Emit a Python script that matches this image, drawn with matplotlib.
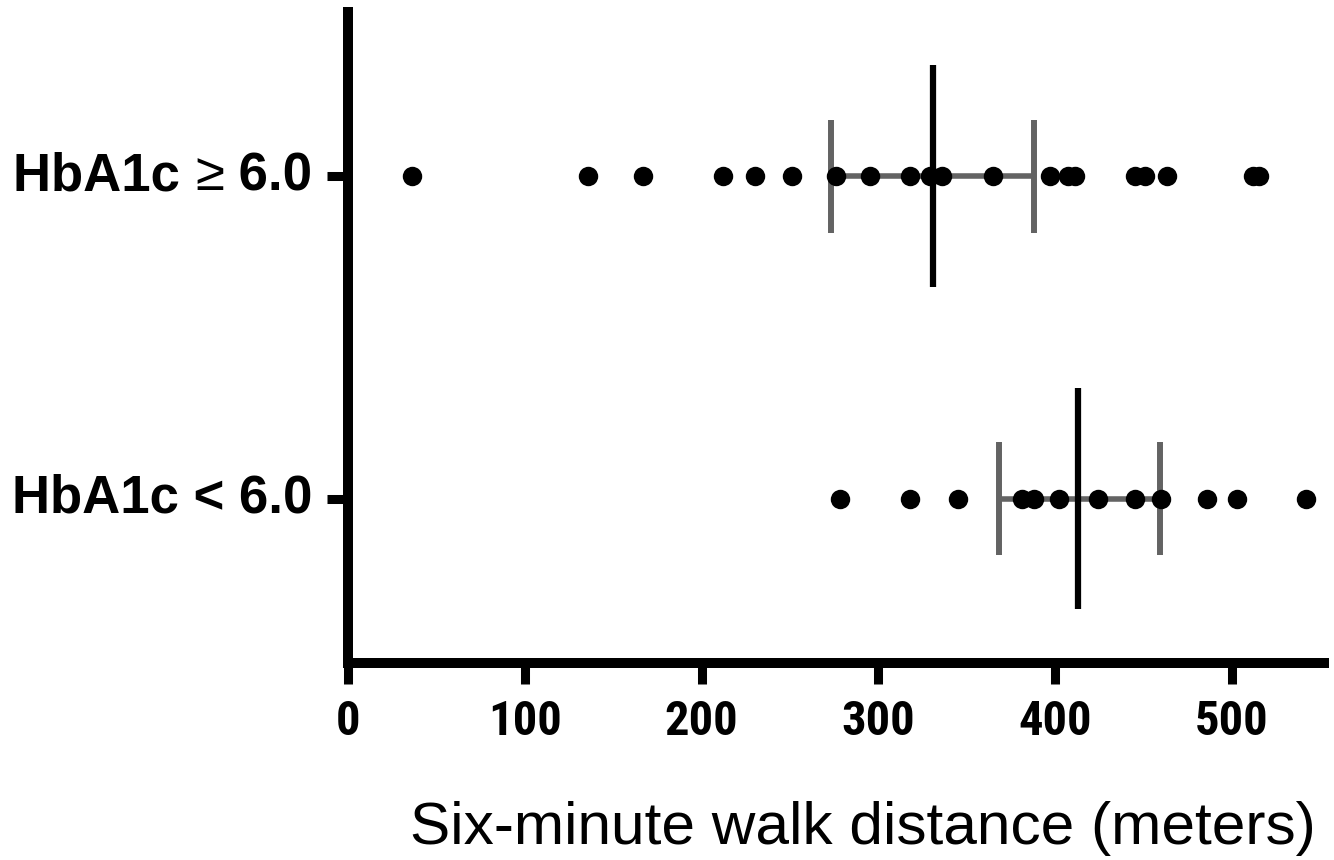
import matplotlib
matplotlib.use('Agg')
import matplotlib.pyplot as plt
from matplotlib import font_manager as fm
from matplotlib.offsetbox import TextArea, HPacker, AnnotationBbox

# Fonts: Arial-like text, a condensed bold face for the tick numbers if one exists
names = {f.name for f in fm.fontManager.ttflist}
sans = 'Liberation Sans' if 'Liberation Sans' in names else 'DejaVu Sans'


def find_condensed():
    bold = [f for f in fm.fontManager.ttflist
            if (f.weight in ('bold', 700, 'heavy') or (isinstance(f.weight, int) and f.weight >= 600))
            and ('Narrow' in f.name or 'Condensed' in f.name or 'condensed' in str(f.stretch)
                 or 'Condensed' in f.fname or 'Narrow' in f.fname)
            and 'Oblique' not in f.fname and 'Italic' not in f.fname]
    for key in ['LiberationSansNarrow', 'RobotoCondensed', 'Roboto_Condensed', 'DejaVuSansCondensed',
                'OpenSans_Condensed', 'OpenSansCondensed', 'NotoSans-Condensed', 'Condensed']:
        for f in bold:
            if key in f.fname.replace(' ', ''):
                return fm.FontProperties(fname=f.fname)
    return None


cond = find_condensed()

# Data (six-minute walk distance, meters)
groups = ['HbA1c < 6.0', 'HbA1c ≥ 6.0']
walk_low = [278, 318, 345, 381, 388, 402, 424, 445, 460, 486, 503, 542]
walk_high = [36, 136, 167, 212, 230, 251, 276, 295, 318, 329, 336, 365,
             397, 407, 411, 445, 451, 463, 512, 515]
centers = [413, 331]
err_low = [368, 273]
err_high = [459, 388]
xticks = [0, 100, 200, 300, 400, 500]

fig = plt.figure(figsize=(13.34, 8.6), dpi=100)
ax = fig.add_axes([0.2609, 0.2291, 0.7316, 0.7570])

gray = '#636363'
for i, vals in enumerate([walk_low, walk_high]):
    # error bar with caps
    ax.plot([err_low[i], err_high[i]], [i, i], color=gray, lw=4, solid_capstyle='butt', zorder=2)
    ax.vlines([err_low[i], err_high[i]], i - 0.176, i + 0.176, color=gray, lw=4.3, zorder=2)
    # center line
    ax.vlines(centers[i], i - 0.344, i + 0.344, color='black', lw=4.5, zorder=3)
    # points
    ax.plot(vals, [i] * len(vals), 'o', color='black', markersize=14, markeredgewidth=0, zorder=4)

ax.set_xlim(0, 552)
ax.set_ylim(-0.51, 1.51)
ax.set_xticks(xticks)
if cond is not None:
    ax.set_xticklabels([str(t) for t in xticks], fontproperties=cond, fontsize=35)
else:
    ax.set_xticklabels([str(t) for t in xticks], fontsize=29, fontweight='bold', family=sans)
ax.set_yticks([0, 1])
ax.set_yticklabels(['', ''])

for s in ['top', 'right']:
    ax.spines[s].set_visible(False)
for s in ['left', 'bottom']:
    ax.spines[s].set_linewidth(7.2)
    ax.spines[s].set_capstyle('projecting')
ax.tick_params(axis='both', length=15, width=6.5, color='black')
ax.tick_params(axis='x', pad=11)

# y category labels; the "≥" sign is drawn in a lighter weight
label_parts = [
    [('HbA1c < 6.0', 'bold')],
    [('HbA1c ', 'bold'), ('≥', 'normal'), (' 6.0', 'bold')],
]
for i, parts in enumerate(label_parts):
    boxes = [TextArea(t, textprops=dict(fontsize=38, fontweight=w, family=sans, color='black'))
             for t, w in parts]
    pack = HPacker(children=boxes, align='baseline', pad=0, sep=0)
    ab = AnnotationBbox(pack, (0, i), xycoords=ax.get_yaxis_transform(),
                        xybox=(-26, 0), boxcoords='offset points',
                        box_alignment=(1, 0.5), frameon=False, pad=0)
    ax.add_artist(ab)

fig.text(0.9865, 0.0372, 'Six-minute walk distance (meters)', ha='right', va='center',
         fontsize=43.5, family=sans)

fig.savefig('out.png', dpi=100, facecolor='white')
